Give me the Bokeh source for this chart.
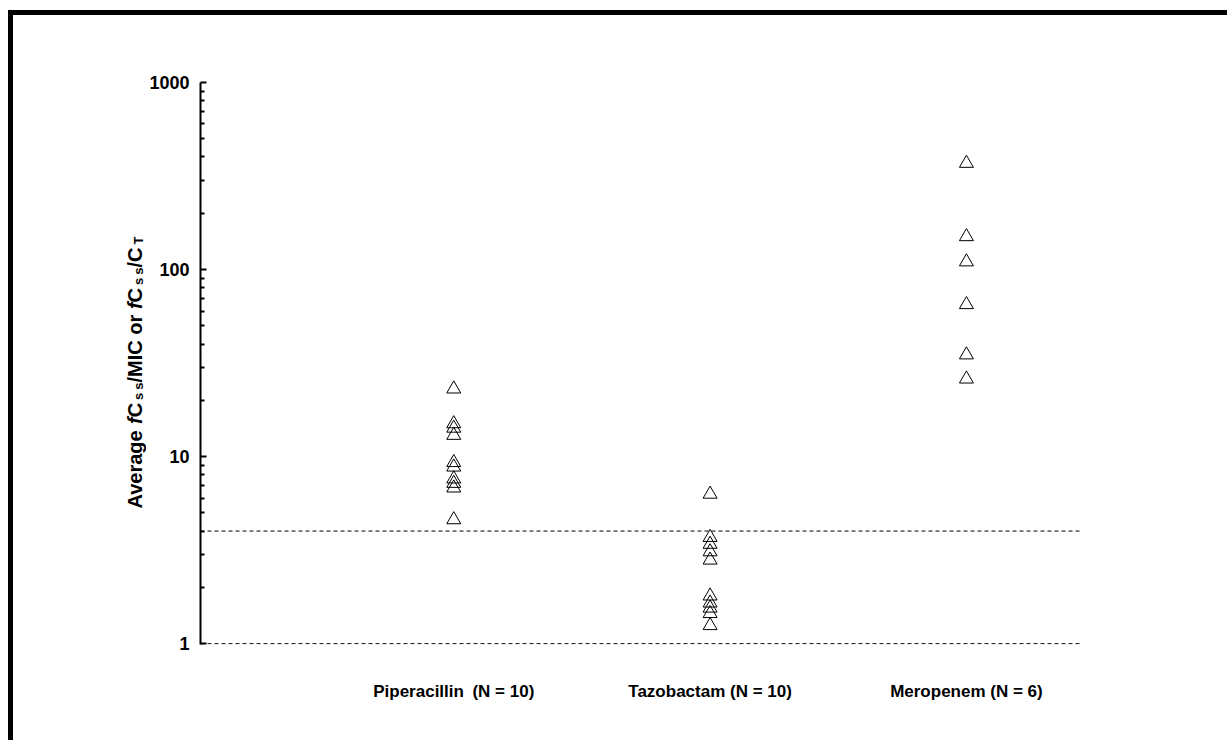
import math
from bokeh.plotting import figure
from bokeh.layouts import row
from bokeh.models import Range1d, Span, FixedTicker
from bokeh.core.properties import value
from bokeh.embed import file_html
from bokeh.resources import INLINE

# ---- data ----
categories = ["Piperacillin\u2002(N = 10)", "Tazobactam (N = 10)", "Meropenem (N = 6)"]
piperacillin = [23.0, 15.0, 14.2, 13.0, 9.3, 8.8, 7.6, 7.2, 6.8, 4.6]
tazobactam = [6.3, 3.7, 3.4, 3.1, 2.8, 1.8, 1.65, 1.55, 1.45, 1.25]
meropenem = [370, 150, 110, 65, 35, 26]
thresholds = [4, 1]
y_ticks = [1, 10, 100, 1000]
y_tick_labels = ["1", "10", "100", "1000"]

series = [piperacillin, tazobactam, meropenem]

FONT = "Liberation Sans"
H = 725
TOTAL_W = 1214
LEFT_W = 133
TOP, BOTTOM = 67, 96
FRAME_H = H - TOP - BOTTOM

# ---- main chart ----
p = figure(width=TOTAL_W - LEFT_W, height=H, y_axis_type="log",
           x_range=Range1d(0.012, 3.445), y_range=Range1d(0.99, 1000),
           output_backend="svg", toolbar_location=None,
           min_border_left=51, min_border_right=147,
           min_border_top=TOP, min_border_bottom=BOTTOM)
p.outline_line_color = None
p.xgrid.visible = False
p.ygrid.visible = False
p.background_fill_color = "white"
p.border_fill_color = "white"

for i, vals in enumerate(series):
    p.scatter([i + 1] * len(vals), vals, marker="triangle", size=14, fill_color=None,
              line_color="black", line_width=1)

for t in thresholds:
    p.add_layout(Span(location=t, dimension="width", line_color="black",
                      line_width=1, line_dash="4 3"))

ya = p.yaxis[0]
ya.ticker = FixedTicker(ticks=y_ticks, minor_ticks=[m * d for d in [1, 10, 100] for m in range(2, 10)])
ya.major_label_overrides = {t: l for t, l in zip(y_ticks, y_tick_labels)}
ya.major_label_text_font = FONT
ya.major_label_text_font_style = "bold"
ya.major_label_text_font_size = "18px"
ya.major_label_text_color = "black"
ya.major_tick_in = 6
ya.major_tick_out = 0
ya.minor_tick_in = 4
ya.minor_tick_out = 0
ya.axis_line_width = 2
ya.major_tick_line_width = 2
ya.minor_tick_line_width = 2
ya.axis_line_color = "black"
ya.major_label_standoff = 11

xa = p.xaxis[0]
xa.ticker = FixedTicker(ticks=[1, 2, 3])
xa.major_label_overrides = {i + 1: c for i, c in enumerate(categories)}
xa.axis_line_color = None
xa.major_tick_line_color = None
xa.minor_tick_line_color = None
xa.major_label_text_font = FONT
xa.major_label_text_font_style = "bold"
xa.major_label_text_font_size = "17px"
xa.major_label_text_color = "black"
xa.major_label_standoff = 31

# ---- left strip holding the rotated y-axis title (italic f, subscripts) ----
t = figure(width=LEFT_W, height=H, x_range=Range1d(0, LEFT_W), y_range=Range1d(0, FRAME_H),
           output_backend="svg", toolbar_location=None,
           min_border_left=0, min_border_right=0,
           min_border_top=TOP, min_border_bottom=BOTTOM,
           x_axis_location=None, y_axis_location=None)
t.outline_line_color = None
t.grid.visible = False
t.background_fill_color = "white"
t.border_fill_color = "white"

main_size = 20
sub_size = 13
sub_gap = 3
pieces = [
    ("Average ", "bold", False, 4224),
    ("f", "bold italic", False, 333),
    ("C", "bold", False, 722),
    ("s", "bold", True, 556),
    ("s", "bold", True, 556),
    ("/MIC or ", "bold", False, 3667),
    ("f", "bold italic", False, 333),
    ("C", "bold", False, 722),
    ("s", "bold", True, 556),
    ("s", "bold", True, 556),
    ("/C", "bold", False, 1000),
    ("T", "bold", True, 611),
]
base_x = 121
pos = 136
for txt, style, sub, w in pieces:
    size = sub_size if sub else main_size
    if sub:
        pos += sub_gap
    t.text(x=[base_x + (3.5 if sub else 0)], y=[pos], text=[txt], angle=math.pi / 2,
           text_font=value(FONT), text_font_style=style, text_font_size=f"{size}px",
           text_color="black", text_align="left", text_baseline="alphabetic")
    pos += w * size / 1000.0

layout = row(t, p, spacing=0)
layout.styles = {"border-left": "5px solid black", "border-top": "5px solid black",
                 "margin-left": "8px", "margin-top": "10px"}

open("out.html", "w").write(file_html(layout, INLINE))
